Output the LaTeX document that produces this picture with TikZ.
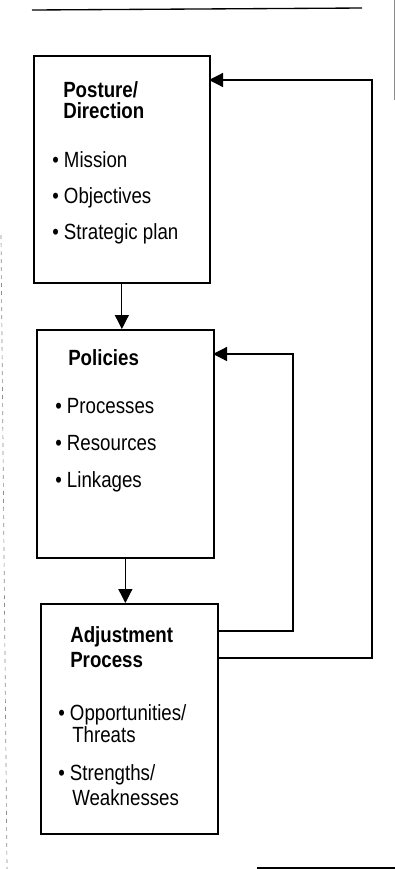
\documentclass[tikz,border=0pt]{standalone}
\usepackage{fontspec}
\setmainfont{Liberation Sans}[FakeStretch=0.85]
\usetikzlibrary{arrows.meta,positioning}

\tikzset{
  block/.style={draw=black, line width=1.3pt, fill=white, inner sep=0pt},
  flow/.style={line width=0.9pt, -{Triangle[length=10.5pt,width=10.5pt]}},
  feedback/.style={line width=0.9pt, -{Triangle[length=10.5pt,width=10.5pt]}},
  head/.style={anchor=base west, inner sep=0pt, font=\fontsize{16.5}{18}\selectfont\bfseries},
  item/.style={anchor=base west, inner sep=0pt, font=\fontsize{16.5}{18}\selectfont},
  edge/.style={line width=0.5pt, black!45}
}

\begin{document}
\begin{tikzpicture}[x=0.75pt, y=-0.75pt]
      \useasboundingbox (0,0) rectangle (395,869);
      % Page rules
      \draw[line width=1pt] (32,10) -- (362,8);
      \draw[line width=1pt] (257,868) -- (395,868);
      \draw[edge] (394,0) -- (394,100);
      \draw[edge, dashed] (1,235) -- (7,869);
      % Draw the blocks
      \node[block, minimum width=176*0.75pt, minimum height=227*0.75pt, anchor=north west] (posture) at (33,55) {};
      \node[block, minimum width=177*0.75pt, minimum height=228*0.75pt, anchor=north west] (policies) at (36,329) {};
      \node[block, minimum width=177*0.75pt, minimum height=230*0.75pt, anchor=north west] (adjust) at (40,603) {};
      % Texts of the first block
      \node[head] (postureA) at (63,97) {Posture/};
      \node[head] (postureB) at (63,118) {Direction};
      \node[item] (mission) at (52,167) {• Mission};
      \node[item] (objectives) at (52,203) {• Objectives};
      \node[item] (plan) at (52,239) {• Strategic plan};
      % Texts of the second block
      \node[head] (policiesA) at (68,365) {Policies};
      \node[item] (processes) at (55,413) {• Processes};
      \node[item] (resources) at (55,450) {• Resources};
      \node[item] (linkages) at (55,487) {• Linkages};
      % Texts of the third block
      \node[head] (adjustA) at (70,642) {Adjustment};
      \node[head] (adjustB) at (70,667) {Process};
      \node[item] (opport) at (58,720) {• Opportunities/};
      \node[item] (threats) at (72,742) {Threats};
      \node[item] (strength) at (58,780) {• Strengths/};
      \node[item] (weak) at (72,805) {Weaknesses};
      % Forward flow
      \draw[flow] (posture.south) -- (posture.south |- policies.north);
      \draw[flow] (policies.south) -- (policies.south |- adjust.north);
      % Feedback loops
      \coordinate (outA) at (217,631);
      \coordinate (cornerA) at (293,631);
      \coordinate (inA) at (213,354);
      \coordinate (outB) at (217,658);
      \coordinate (cornerB) at (372,658);
      \coordinate (inB) at (209,80);
      \draw[feedback] (outA) -- (cornerA) |- (inA);
      \draw[feedback] (outB) -- (cornerB) |- (inB);
\end{tikzpicture}
\end{document}
